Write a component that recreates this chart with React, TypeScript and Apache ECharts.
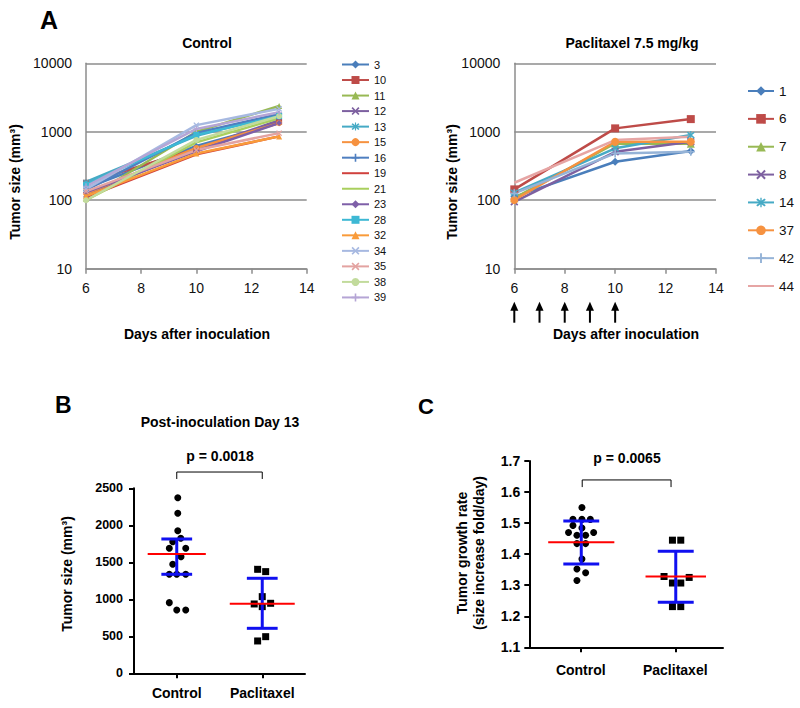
import React, { useEffect, useRef } from "react";
import * as echarts from "echarts";

const FONT = "'Liberation Sans', Arial, Helvetica, sans-serif";

// ---------- Panel A data ----------
const days = [6, 10, 13];
const arrowDays = [6, 7, 8, 9, 10];

const controlMice = ["3", "10", "11", "12", "13", "15", "16", "19", "21", "23", "28", "32", "34", "35", "38", "39"];
const controlDay6 = [150, 180, 105, 120, 185, 125, 140, 110, 100, 130, 170, 115, 145, 135, 100, 160];
const controlDay10 = [620, 560, 1000, 560, 870, 580, 960, 470, 700, 520, 900, 480, 1250, 540, 760, 1100];
const controlDay13 = [1338, 1400, 2378, 1473, 1779, 1338, 1824, 856, 1577, 1338, 1689, 856, 2162, 955, 1689, 1928];
const controlColors = ["#4A7EBB", "#BE4B48", "#98B954", "#7D60A0", "#46AAC5", "#F69240", "#4F7FC0", "#D0413D",
  "#A9CF5D", "#7E5FA8", "#3DB8D4", "#F99B3A", "#A7B9E1", "#E3A3A1", "#C2DB9C", "#B5A5D5"];
const controlMarkers = ["diamond", "square", "triangle", "x", "asterisk", "circle", "plus", "none",
  "none", "diamond", "square", "triangle", "x", "x", "circle", "plus"];

const paclitaxelMice = ["1", "6", "7", "8", "14", "37", "42", "44"];
const paclitaxelDay6 = [112, 144, 107, 95, 129, 101, 126, 180];
const paclitaxelDay10 = [365, 1121, 676, 510, 573, 714, 483, 757];
const paclitaxelDay13 = [522, 1531, 670, 714, 895, 714, 510, 845];
const paclitaxelColors = ["#4A7EBB", "#BE4B48", "#98B954", "#7D60A0", "#46AAC5", "#F69240", "#95B3D7", "#E6A5A4"];
const paclitaxelMarkers = ["diamond", "square", "triangle", "x", "asterisk", "circle", "plus", "none"];

// ---------- Panel B data (day 13 tumor size) ----------
const groups = ["Control", "Paclitaxel"];
const bControlSize = [2373, 2162, 1927, 1824, 1779, 1689, 1689, 1576, 1473, 1338, 1338, 1338, 955, 856, 856];
const bControlJitter = [0.012, 0.012, 0.012, 0.047, -0.047, -0.087, 0.105, 0.05, -0.047, -0.087, 0.0, 0.105, -0.087, 0.0, 0.105];
const bPacliSize = [1405, 1374, 1036, 937, 901, 946, 495, 437];
const bPacliJitter = [-0.054, 0.04, 0.0, -0.094, 0.0, 0.098, 0.04, -0.054];
const bMean = [1613, 941];
const bUpper = [1815, 1284];
const bLower = [1338, 608];
const bBracket = [2626, 2720];

// ---------- Panel C data (growth rate) ----------
const cControlRate = [1.55, 1.512, 1.512, 1.512, 1.492, 1.484, 1.47, 1.47, 1.461, 1.461, 1.434, 1.434, 1.384, 1.352, 1.34, 1.315];
const cControlJitter = [0.007, -0.088, 0.007, 0.096, -0.088, 0.007, -0.135, 0.131, -0.046, 0.046, -0.046, 0.046, 0.007, -0.046, 0.046, -0.046];
const cPacliRate = [1.445, 1.445, 1.328, 1.325, 1.307, 1.307, 1.231, 1.231];
const cPacliJitter = [-0.035, 0.053, -0.124, 0.142, -0.035, 0.053, -0.035, 0.053];
const cMean = [1.438, 1.328];
const cUpper = [1.507, 1.409];
const cLower = [1.368, 1.245];
const cBracket = [1.616, 1.639];

const SYMBOLS: Record<string, string> = {
  diamond: "diamond",
  square: "rect",
  triangle: "triangle",
  circle: "circle",
  none: "circle",
  x: "path://M1.5,0 L5,3.5 L8.5,0 L10,1.5 L6.5,5 L10,8.5 L8.5,10 L5,6.5 L1.5,10 L0,8.5 L3.5,5 L0,1.5 Z",
  asterisk: "path://M1.5,0 L5,3.5 L8.5,0 L10,1.5 L6.5,5 L10,8.5 L8.5,10 L5,6.5 L1.5,10 L0,8.5 L3.5,5 L0,1.5 Z M4.3,-1 L5.7,-1 L5.7,11 L4.3,11 Z",
  plus: "path://M4,0 L6,0 L6,4 L10,4 L10,6 L6,6 L6,10 L4,10 L4,6 L0,6 L0,4 L4,4 Z",
};

function lineSeries(names: string[], d6: number[], d10: number[], d13: number[], colors: string[], markers: string[], axis: number, size: number) {
  return names.map((n, i) => ({
    type: "line",
    name: n,
    xAxisIndex: axis,
    yAxisIndex: axis,
    data: [d6[i], d10[i], d13[i]].map((v, k) => [days[k], v]),
    symbol: SYMBOLS[markers[i]],
    symbolSize: size,
    showSymbol: markers[i] !== "none",
    color: colors[i],
    itemStyle: { color: colors[i] },
    lineStyle: { color: colors[i], width: 2.5 },
    z: 2,
  }));
}

function legendData(names: string[], markers: string[]) {
  return names.map((n, i) => (markers[i] === "none" ? { name: n, itemStyle: { opacity: 0 } } : { name: n }));
}

function seg(xi: number, yi: number, pts: number[][], color: string, width: number, z: number) {
  return {
    type: "line",
    xAxisIndex: xi,
    yAxisIndex: yi,
    data: pts,
    symbol: "none",
    silent: true,
    clip: false,
    lineStyle: { color, width },
    z,
  };
}

function scatterSeries(xi: number, yi: number, values: number[], jitter: number[], center: number, symbol: string, size: number) {
  return {
    type: "scatter",
    xAxisIndex: xi,
    yAxisIndex: yi,
    symbol,
    symbolSize: size,
    itemStyle: { color: "#000", opacity: 1 },
    data: values.map((v, i) => [center + jitter[i], v]),
    z: 2,
    silent: true,
  };
}

function errorBars(xi: number, yi: number, mean: number[], lo: number[], hi: number[], redHalf: number[], capHalf: number) {
  const out: any[] = [];
  mean.forEach((m, g) => {
    const c = g + 0.5;
    out.push(seg(xi, yi, [[c, lo[g]], [c, hi[g]]], "#1010F0", 3, 3));
    out.push(seg(xi, yi, [[c - capHalf, hi[g]], [c + capHalf, hi[g]]], "#1010F0", 3, 3));
    out.push(seg(xi, yi, [[c - capHalf, lo[g]], [c + capHalf, lo[g]]], "#1010F0", 3, 3));
    out.push(seg(xi, yi, [[c - redHalf[g], m], [c + redHalf[g], m]], "#FF0000", 2, 4));
  });
  return out;
}

function txt(text: string, x: number, y: number, size: number, opts: any = {}) {
  return {
    type: "text",
    x,
    y,
    rotation: opts.rotate ? Math.PI / 2 : 0,
    style: {
      text,
      fill: "#000",
      font: `${opts.weight || "bold"} ${size}px ${FONT}`,
      textAlign: opts.align || "center",
      textVerticalAlign: "middle",
    },
  };
}

const plain = (v: number) => String(v);

const logAxis = (gi: number) => ({
  gridIndex: gi,
  type: "log",
  logBase: 10,
  min: 10,
  max: 10000,
  axisLine: { show: true, lineStyle: { color: "#8C8C8C", width: 1.5 } },
  axisTick: { show: false },
  axisLabel: { fontSize: 14, color: "#111", fontFamily: FONT, margin: 14, formatter: plain },
  splitLine: { show: true, lineStyle: { color: "#8C8C8C", width: 1.5 } },
});

const dayAxis = (gi: number) => ({
  gridIndex: gi,
  type: "value",
  min: 6,
  max: 14,
  interval: 2,
  axisLine: { show: true, onZero: false, lineStyle: { color: "#8C8C8C", width: 1.5 } },
  axisTick: { show: true, length: 5, lineStyle: { color: "#8C8C8C", width: 1.5 } },
  axisLabel: { fontSize: 14, color: "#111", fontFamily: FONT, margin: 12, formatter: plain },
  splitLine: { show: false },
});

const blackLine = { show: true, onZero: false, lineStyle: { color: "#000", width: 2 } };

export default function App() {
  const ref = useRef<HTMLDivElement>(null);
  useEffect(() => {
    if (!ref.current) return;
    const chart = echarts.init(ref.current, null, { renderer: "svg" });

    const option: any = {
      animation: false,
      backgroundColor: "#fff",
      textStyle: { fontFamily: FONT },
      grid: [
        { left: 86, top: 63.3, width: 220.7, height: 205.4 },
        { left: 514.3, top: 63.3, width: 201.7, height: 205.4 },
        { left: 134, top: 488.3, width: 171, height: 185 },
        { left: 529.3, top: 461, width: 193.7, height: 186.3 },
        { left: 533.5, top: 461, width: 189, height: 186.3 },
      ],
      xAxis: [
        dayAxis(0),
        dayAxis(1),
        { gridIndex: 2, type: "value", min: 0, max: 2, show: false },
        {
          gridIndex: 2, type: "category", data: groups, position: "bottom", boundaryGap: true,
          axisLine: blackLine,
          axisTick: { show: true, alignWithLabel: true, length: 5, lineStyle: { color: "#000", width: 2 } },
          axisLabel: { fontSize: 14, fontWeight: "bold", color: "#000", fontFamily: FONT, margin: 13 },
        },
        {
          gridIndex: 3, type: "value", min: -0.05, max: 2,
          axisLine: blackLine, axisTick: { show: false }, axisLabel: { show: false }, splitLine: { show: false },
        },
        {
          gridIndex: 4, type: "category", data: groups, position: "bottom", boundaryGap: true,
          axisLine: { show: false },
          axisTick: { show: true, alignWithLabel: true, length: 5, lineStyle: { color: "#000", width: 2 } },
          axisLabel: { fontSize: 14, fontWeight: "bold", color: "#000", fontFamily: FONT, margin: 16 },
        },
      ],
      yAxis: [
        logAxis(0),
        logAxis(1),
        {
          gridIndex: 2, type: "value", min: 0, max: 2500, interval: 500,
          axisLine: blackLine,
          axisTick: { show: true, length: 5, lineStyle: { color: "#000", width: 2 } },
          axisLabel: { fontSize: 12.5, fontWeight: "bold", color: "#000", fontFamily: FONT, margin: 11, formatter: plain },
          splitLine: { show: false },
        },
        {
          gridIndex: 3, type: "value", min: 1.1, max: 1.7, interval: 0.1,
          axisLine: blackLine,
          axisTick: { show: true, length: 5, lineStyle: { color: "#000", width: 2 } },
          axisLabel: {
            fontSize: 14, fontWeight: "bold", color: "#000", fontFamily: FONT, margin: 9,
            formatter: (v: number) => v.toFixed(1),
          },
          splitLine: { show: false },
        },
        { gridIndex: 4, type: "value", show: false },
      ],
      legend: [
        {
          data: legendData(controlMice, controlMarkers), orient: "vertical", left: 341, top: 59, padding: 0,
          itemWidth: 27, itemHeight: 10, itemGap: 4.53, selectedMode: false,
          textStyle: { fontSize: 11, color: "#111", fontFamily: FONT, lineHeight: 10 },
        },
        {
          data: legendData(paclitaxelMice, paclitaxelMarkers), orient: "vertical", left: 747, top: 84, padding: 0,
          itemWidth: 26, itemHeight: 12, itemGap: 13.86, selectedMode: false,
          textStyle: { fontSize: 13.5, color: "#111", fontFamily: FONT, lineHeight: 12 },
        },
      ],
      series: [
        ...lineSeries(controlMice, controlDay6, controlDay10, controlDay13, controlColors, controlMarkers, 0, 6),
        ...lineSeries(paclitaxelMice, paclitaxelDay6, paclitaxelDay10, paclitaxelDay13, paclitaxelColors, paclitaxelMarkers, 1, 8),
        {
          type: "custom",
          name: "dosing",
          xAxisIndex: 1,
          yAxisIndex: 1,
          clip: false,
          silent: true,
          data: arrowDays.map((d) => [d, 10]),
          renderItem: (_p: any, api: any) => {
            const pt = api.coord([api.value(0), api.value(1)]);
            const x = pt[0];
            const y = pt[1];
            return {
              type: "group",
              children: [
                { type: "line", shape: { x1: x, y1: y + 40, x2: x, y2: y + 54 }, style: { stroke: "#000", lineWidth: 2 } },
                { type: "polygon", shape: { points: [[x, y + 33], [x - 4, y + 42], [x + 4, y + 42]] }, style: { fill: "#000" } },
              ],
            };
          },
        },
        // Panel B
        scatterSeries(2, 2, bControlSize, bControlJitter, 0.5, "circle", 7),
        scatterSeries(2, 2, bPacliSize, bPacliJitter, 1.5, "rect", 7),
        ...errorBars(2, 2, bMean, bLower, bUpper, [0.34, 0.38], 0.18),
        seg(2, 2, [[0.5, bBracket[0]], [0.5, bBracket[1]], [1.5, bBracket[1]], [1.5, bBracket[0]]], "#000", 1, 1),
        // Panel C
        scatterSeries(4, 3, cControlRate, cControlJitter, 0.5, "circle", 7),
        scatterSeries(4, 3, cPacliRate, cPacliJitter, 1.5, "rect", 7),
        ...errorBars(4, 3, cMean, cLower, cUpper, [0.35, 0.32], 0.19),
        seg(4, 3, [[0.51, cBracket[0]], [0.51, cBracket[1]], [1.45, cBracket[1]], [1.45, cBracket[0]]], "#000", 1, 1),
      ],
      graphic: [
        txt("A", 40, 20, 25, { align: "left" }),
        txt("Control", 207, 43, 14),
        txt("Paclitaxel 7.5 mg/kg", 632, 43, 14),
        txt("Tumor size (mm³)", 15, 182, 14, { rotate: true }),
        txt("Tumor size (mm³)", 452, 182, 14, { rotate: true }),
        txt("Days after inoculation", 197, 334, 14),
        txt("Days after inoculation", 626, 334, 14),
        txt("B", 55, 405, 23, { align: "left" }),
        txt("Post-inoculation Day 13", 220, 422, 14),
        txt("p = 0.0018", 220, 456, 14),
        txt("Tumor size (mm³)", 67, 574, 14, { rotate: true }),
        txt("C", 418, 406, 22, { align: "left" }),
        txt("p = 0.0065", 627, 458, 14),
        txt("Tumor growth rate", 462, 553, 14, { rotate: true }),
        txt("(size increase fold/day)", 479, 553, 14, { rotate: true }),
      ],
    };

    chart.setOption(option);
    return () => chart.dispose();
  }, []);

  return <div ref={ref} style={{ position: "absolute", left: 0, top: 0, width: 800, height: 708 }} />;
}
